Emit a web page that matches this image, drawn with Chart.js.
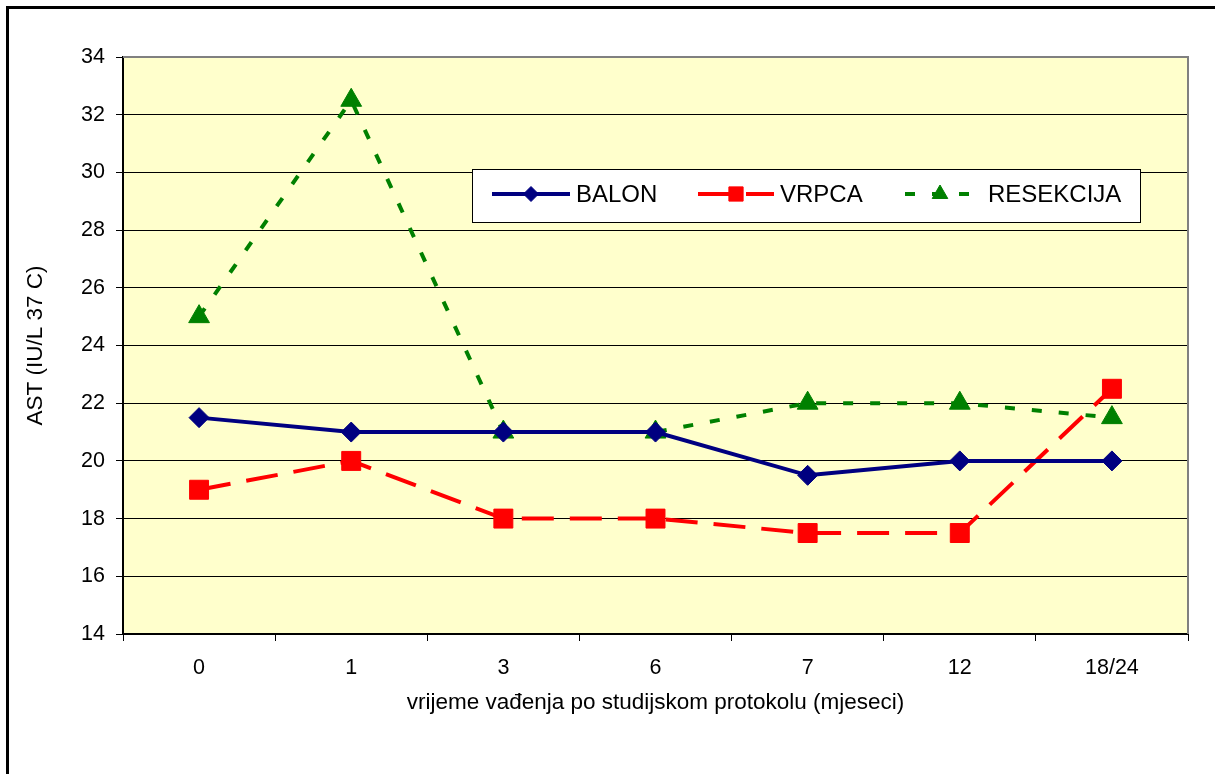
<!DOCTYPE html>
<html>
<head>
<meta charset="utf-8">
<title>AST</title>
<script src="https://cdn.jsdelivr.net/npm/chart.js@4.4.0/dist/chart.umd.min.js"></script>
<style>
  html, body { margin: 0; padding: 0; background: #fff; }
  #wrap { width: 1215px; height: 774px; }
</style>
</head>
<body>
<div id="wrap"><canvas id="myChart" width="1215" height="774"></canvas></div>
<script>
// podaci
const kategorije = ['0', '1', '3', '6', '7', '12', '18/24'];
const balon     = [21.5, 21, 21, 21, 19.5, 20, 20];
const vrpca     = [19, 20, 18, 18, 17.5, 17.5, 22.5];
const resekcija = [25, 32.5, 21, 21, 22, 22, 21.5];
const yTicks    = [14, 16, 18, 20, 22, 24, 26, 28, 30, 32, 34];

const font = 'Liberation Sans, Arial, sans-serif';

// crta bijelu pozadinu, okvir i zutu podlogu grafa
const pozadina = {
  id: 'pozadina',
  beforeDraw(chart) {
    const c = chart.ctx;
    const a = chart.chartArea;
    c.save();
    c.fillStyle = '#fff';
    c.fillRect(0, 0, chart.width, chart.height);
    c.strokeStyle = '#000';
    c.lineWidth = 3;
    c.beginPath();
    c.moveTo(7.5, chart.height + 5);
    c.lineTo(7.5, 7.5);
    c.lineTo(chart.width + 5, 7.5);
    c.stroke();
    c.fillStyle = '#FFFFCC';
    c.fillRect(a.left, a.top, a.right - a.left, a.bottom - a.top);
    c.restore();
  },
  beforeDatasetsDraw(chart) {
    // sivi rub gore i desno
    const c = chart.ctx;
    const a = chart.chartArea;
    c.save();
    c.strokeStyle = '#808080';
    c.lineWidth = 2;
    c.beginPath();
    c.moveTo(a.left, a.top);
    c.lineTo(a.right, a.top);
    c.lineTo(a.right, a.bottom);
    c.stroke();
    c.restore();
  }
};

// legenda u okviru unutar grafa
const legenda = {
  id: 'legenda',
  afterDraw(chart) {
    const c = chart.ctx;
    const box = { x: 472, y: 169, w: 668, h: 53 };
    const stavke = [
      { x0: 492, x1: 570, tx: 576 },
      { x0: 698, x1: 774, tx: 780 },
      { x0: 905, x1: 975, tx: 988 }
    ];
    c.save();
    c.fillStyle = '#fff';
    c.fillRect(box.x, box.y, box.w, box.h);
    c.strokeStyle = '#000';
    c.lineWidth = 1;
    c.strokeRect(box.x + 0.5, box.y + 0.5, box.w, box.h);

    const ly = 194;
    chart.data.datasets.forEach((ds, i) => {
      const s = stavke[i];
      c.save();
      c.strokeStyle = ds.borderColor;
      c.lineWidth = ds.borderWidth;
      c.setLineDash(ds.borderDash || []);
      c.beginPath();
      c.moveTo(s.x0, ly);
      c.lineTo(s.x1, ly);
      c.stroke();
      c.restore();

      c.save();
      c.fillStyle = ds.pointBackgroundColor;
      c.strokeStyle = ds.pointBorderColor;
      Chart.helpers.drawPoint(c, {
        pointStyle: ds.pointStyle,
        radius: ds.pointRadius * 0.75,
        rotation: 0,
        borderWidth: 1
      }, (s.x0 + s.x1) / 2, ly);
      c.restore();

      c.fillStyle = '#000';
      c.font = '24px ' + font;
      c.textBaseline = 'middle';
      c.textAlign = 'left';
      c.fillText(ds.label, s.tx, ly + 1);
    });
    c.restore();
  }
};

document.addEventListener('DOMContentLoaded', () => {
  const ctx = document.getElementById('myChart').getContext('2d');

  const myChart = new Chart(ctx, {
    type: 'line',
    data: {
      labels: kategorije,
      datasets: [{
        label: 'BALON',
        data: balon,
        borderColor: '#000080',
        borderWidth: 4,
        pointStyle: 'rectRot',
        pointRadius: 10,
        pointBackgroundColor: '#000080',
        pointBorderColor: '#000080',
        pointBorderWidth: 1,
        tension: 0
      }, {
        label: 'VRPCA',
        data: vrpca,
        borderColor: '#FF0000',
        borderWidth: 4,
        borderDash: [32, 16],
        pointStyle: 'rect',
        pointRadius: 13.4,
        pointBackgroundColor: '#FF0000',
        pointBorderColor: '#FF0000',
        pointBorderWidth: 1,
        tension: 0
      }, {
        label: 'RESEKCIJA',
        data: resekcija,
        borderColor: '#008000',
        borderWidth: 4,
        borderDash: [10, 17],
        pointStyle: 'triangle',
        pointRadius: 12,
        pointBackgroundColor: '#008000',
        pointBorderColor: '#008000',
        pointBorderWidth: 1,
        tension: 0
      }]
    },
    options: {
      responsive: false,
      animation: false,
      devicePixelRatio: 1,
      events: [],
      layout: { padding: { left: 0, right: 27, top: 57, bottom: 0 } },
      plugins: {
        legend: { display: false },
        tooltip: { enabled: false }
      },
      scales: {
        x: {
          offset: true,
          grid: { drawOnChartArea: false, drawTicks: true, tickLength: 7, color: '#000', offset: true },
          border: { color: '#000', width: 2 },
          ticks: { color: '#000', font: { family: font, size: 21.5 }, padding: 14, maxRotation: 0 },
          title: {
            display: true,
            text: 'vrijeme vađenja po studijskom protokolu (mjeseci)',
            color: '#000',
            font: { family: font, size: 22.5 },
            padding: { top: 0, bottom: 58 }
          },
          afterFit(scale) { scale.height = 140; }
        },
        y: {
          min: 14,
          max: 34,
          grid: {
            color: (c) => (c.tick && c.tick.value === 34 ? '#808080' : '#000'),
            lineWidth: 1,
            tickLength: 7,
            tickColor: '#000'
          },
          border: { color: '#000', width: 2 },
          afterBuildTicks(scale) { scale.ticks = yTicks.map(v => ({ value: v })); },
          ticks: { color: '#000', font: { family: font, size: 21.5 }, padding: 11 },
          title: {
            display: true,
            text: 'AST (IU/L 37 C)',
            color: '#000',
            font: { family: font, size: 22.5 },
            padding: { top: 22, bottom: 0 }
          },
          afterFit(scale) { scale.width = 123; }
        }
      }
    },
    plugins: [pozadina, legenda]
  });
});
</script>
</body>
</html>
